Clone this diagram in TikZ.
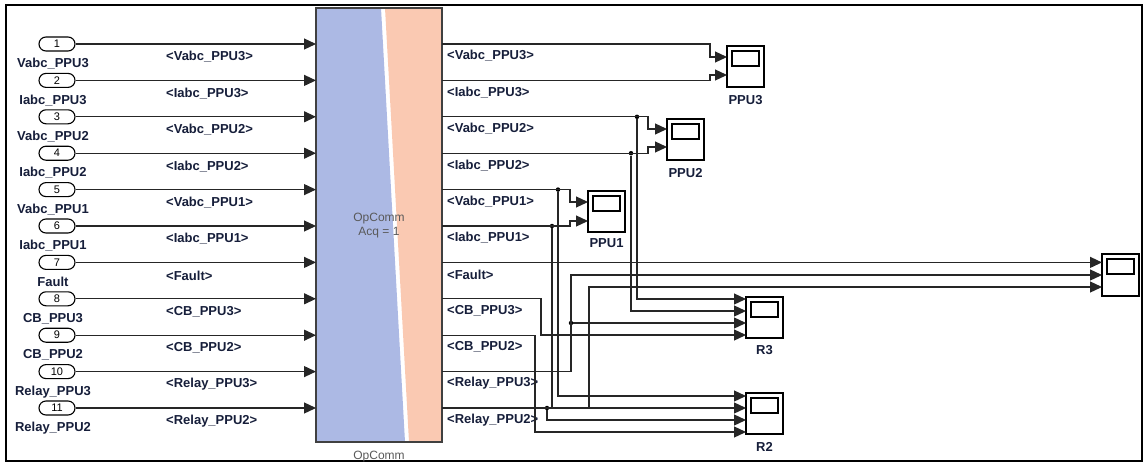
\documentclass[tikz,border=0pt]{standalone}
\usepackage{fontspec}
\setmainfont{Liberation Sans}
\usepackage{tikz}
\usetikzlibrary{positioning,arrows.meta}

\definecolor{opblue}{RGB}{172,185,228}
\definecolor{oppeach}{RGB}{250,201,178}
\definecolor{sigtext}{RGB}{22,30,58}

\begin{document}
\begin{tikzpicture}[x=1pt, y=-1pt, >={Triangle[length=12pt,width=11pt]},
		wire/.style={line width=1.2pt, draw=black!85},
		inport/.style={draw, line width=1.1pt, rounded corners=7pt, minimum width=36pt, minimum height=14pt, inner sep=0pt, font=\fontsize{11}{11}\selectfont},
		portname/.style={font=\bfseries\fontsize{13}{13}\selectfont, text=sigtext, inner sep=0pt, text height=9pt, text depth=3pt},
		siglabel/.style={font=\bfseries\fontsize{13}{13}\selectfont, text=sigtext, anchor=west, inner sep=0pt},
		scopebox/.style={draw, line width=1.1pt, outer sep=0pt, minimum width=37pt, minimum height=41pt, inner sep=0pt, anchor=north west,
			path picture={\draw[line width=1.1pt] ([xshift=5pt,yshift=-5pt]path picture bounding box.north west) rectangle ([xshift=-5pt,yshift=-20pt]path picture bounding box.north east);}},
		dot/.style={circle, fill=black, inner sep=0pt, minimum size=4.5pt}]
	\useasboundingbox (0,0) rectangle (1147,463);
	\draw[line width=2.5pt] (6,5) rectangle (1142,461);

	% OpComm block
	\fill[opblue] (316,8) -- (381,8) -- (405,442) -- (316,442) -- cycle;
	\fill[oppeach] (385,8) -- (442,8) -- (442,442) -- (409,442) -- cycle;
	\node[draw=black!75, line width=1.2pt, outer sep=0pt, minimum width=126pt, minimum height=434pt, anchor=north west] (opcomm) at (316,8) {};
	\node[text=black!65, align=center, font=\fontsize{12}{14}\selectfont] (opname) at (379,226) {OpComm\\Acq = 1};
	\node[text=black!65, font=\fontsize{12}{12}\selectfont, below=6pt of opcomm] (optitle) {OpComm};

	% inports and signals
	\foreach \n/\sig [evaluate=\n as \yy using 44+36.4*(\n-1)] in {1/Vabc\_PPU3, 2/Iabc\_PPU3, 3/Vabc\_PPU2, 4/Iabc\_PPU2, 5/Vabc\_PPU1, 6/Iabc\_PPU1, 7/Fault, 8/CB\_PPU3, 9/CB\_PPU2, 10/Relay\_PPU3, 11/Relay\_PPU2} {
		\node[inport] (in\n) at (57,\yy) {\n};
		\node[portname, below=7pt of in\n, xshift=-4pt] (lbl\n) {\sig};
		\draw[wire,->] (in\n.east) -- (in\n.east -| opcomm.west);
		\node[siglabel] (sl\n) at (166,\yy+13) {<\sig>};
		\coordinate (out\n) at (opcomm.east |- in\n);
		\node[siglabel] (sr\n) at (447,\yy+12) {<\sig>};
	}

	% scopes
	\node[scopebox] (ppu3) at (727,46) {};
	\node[scopebox] (ppu2) at (667,119) {};
	\node[scopebox] (ppu1) at (588,191) {};
	\node[scopebox, minimum height=42pt] (faultscope) at (1102,254) {};
	\node[scopebox] (r3) at (746,297) {};
	\node[scopebox] (r2) at (746,393) {};
	\node[portname, below=8pt of ppu3] (ppu3name) {PPU3};
	\node[portname, below=8pt of ppu2] (ppu2name) {PPU2};
	\node[portname, below=6pt of ppu1] (ppu1name) {PPU1};
	\node[portname, below=7pt of r3] (r3name) {R3};
	\node[portname, below=8pt of r2] (r2name) {R2};

	\coordinate (ppu3-1) at (ppu3.west |- 0,57);
	\coordinate (ppu3-2) at (ppu3.west |- 0,75);
	\coordinate (ppu2-1) at (ppu2.west |- 0,129);
	\coordinate (ppu2-2) at (ppu2.west |- 0,147);
	\coordinate (ppu1-1) at (ppu1.west |- 0,202);
	\coordinate (ppu1-2) at (ppu1.west |- 0,221);
	\coordinate (fs-1) at (faultscope.west |- out7);
	\coordinate (fs-2) at (faultscope.west |- 0,275);
	\coordinate (fs-3) at (faultscope.west |- 0,287);
	\coordinate (r3-1) at (r3.west |- 0,299);
	\coordinate (r3-2) at (r3.west |- 0,311);
	\coordinate (r3-3) at (r3.west |- 0,323);
	\coordinate (r3-4) at (r3.west |- 0,335);
	\coordinate (r2-1) at (r2.west |- 0,396);
	\coordinate (r2-2) at (r2.west |- out11);
	\coordinate (r2-3) at (r2.west |- 0,420);
	\coordinate (r2-4) at (r2.west |- 0,432);

	% junctions
	\node[dot] (j3) at (637,0 |- out3) {};
	\node[dot] (j4) at (631,0 |- out4) {};
	\node[dot] (j5) at (558,0 |- out5) {};
	\node[dot] (j6) at (552,0 |- out6) {};
	\node[dot] (j10) at (571,323) {};
	\node[dot] (j11) at (547,0 |- out11) {};

	% outputs
	\draw[wire,->] (out1) -| ([xshift=-17pt]ppu3-1) -- (ppu3-1);
	\draw[wire,->] (out2) -| ([xshift=-17pt]ppu3-2) -- (ppu3-2);
	\draw[wire,->] (out3) -| ([xshift=-19pt]ppu2-1) -- (ppu2-1);
	\draw[wire,->] (out4) -| ([xshift=-19pt]ppu2-2) -- (ppu2-2);
	\draw[wire,->] (out5) -| ([xshift=-18pt]ppu1-1) -- (ppu1-1);
	\draw[wire,->] (out6) -| ([xshift=-18pt]ppu1-2) -- (ppu1-2);
	\draw[wire,->] (out7) -- (fs-1);
	\draw[wire,->] (out8) -- ++(99,0) |- (r3-4);
	\draw[wire,->] (out9) -- ++(93,0) |- (r2-4);
	\draw[wire,->] (out10) -- ++(129,0) |- (fs-2);
	\draw[wire,->] (out11) -- ++(147,0) |- (fs-3);
	\draw[wire,->] (j3) |- (r3-1);
	\draw[wire,->] (j4) |- (r3-2);
	\draw[wire,->] (j10) -- (r3-3);
	\draw[wire,->] (j5) |- (r2-1);
	\draw[wire,->] (j6) |- (r2-2);
	\draw[wire,->] (j11) |- (r2-3);
\end{tikzpicture}
\end{document}
